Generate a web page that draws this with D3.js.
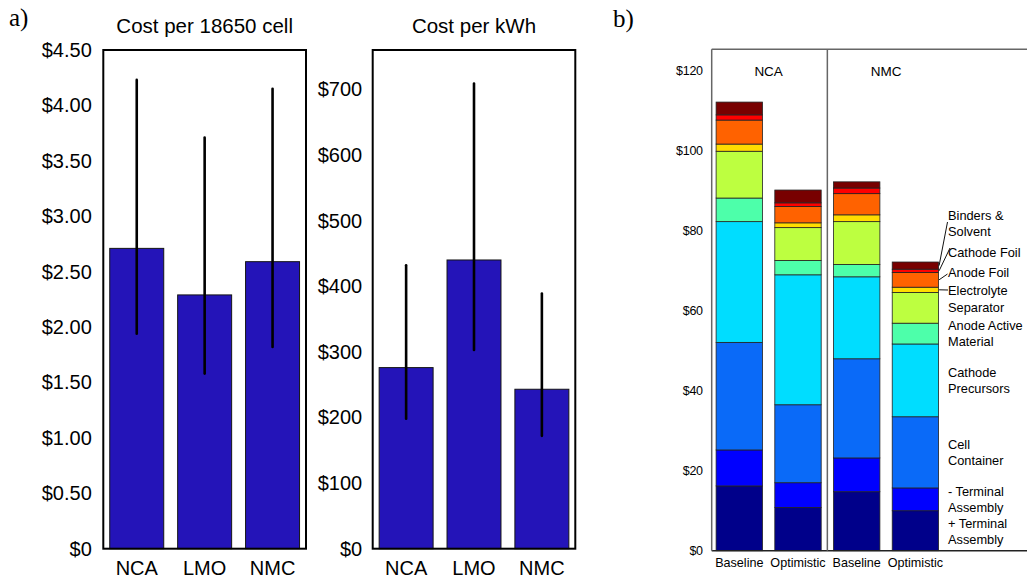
<!DOCTYPE html>
<html>
<head>
<meta charset="utf-8">
<script src="https://cdn.jsdelivr.net/npm/d3@7"></script>
<style>
  body { margin: 0; background: #fff; }
  svg { display: block; font-family: 'Liberation Sans', Arial, sans-serif; }
</style>
</head>
<body>
<div id="chart"></div>
<script>
// panel a data
var materials = ['NCA', 'LMO', 'NMC'];
var cellCost = [2.71, 2.29, 2.59];
var cellCostLow = [1.94, 1.58, 1.82];
var cellCostHigh = [4.23, 3.71, 4.15];
var kwhCost = [276, 440, 243];
var kwhCostLow = [198, 303, 172];
var kwhCostHigh = [432, 709, 389];
var cellTicks = [0, 0.5, 1, 1.5, 2, 2.5, 3, 3.5, 4, 4.5];
var kwhTicks = [0, 100, 200, 300, 400, 500, 600, 700];

// panel b data (one value per bar: NCA base, NCA opt, NMC base, NMC opt)
var scenarios = ['Baseline', 'Optimistic', 'Baseline', 'Optimistic'];
var chemistries = ['NCA', 'NMC'];
var components = ['+ Terminal Assembly', '- Terminal Assembly', 'Cell Container',
                  'Cathode Precursors', 'Anode Active Material', 'Separator',
                  'Electrolyte', 'Anode Foil', 'Cathode Foil', 'Binders & Solvent'];
var posTerminal = [16.2, 10.8, 14.75, 10.0];
var negTerminal = [9.0, 6.2, 8.45, 5.7];
var cellContainer = [26.9, 19.5, 24.8, 17.8];
var cathodePrecursors = [30.2, 32.5, 20.5, 18.2];
var anodeActive = [5.9, 3.6, 3.1, 5.2];
var separator = [11.7, 8.2, 10.7, 7.7];
var electrolyte = [1.8, 1.2, 1.7, 1.3];
var anodeFoil = [6.0, 4.1, 5.3, 3.7];
var cathodeFoil = [1.3, 0.9, 1.4, 0.8];
var binders = [3.2, 3.2, 1.55, 1.8];
var packTicks = [0, 20, 40, 60, 80, 100, 120];

var componentValues = [posTerminal, negTerminal, cellContainer, cathodePrecursors,
                       anodeActive, separator, electrolyte, anodeFoil, cathodeFoil, binders];
var componentColors = ['#00008a', '#0000ff', '#0a6af8', '#00ddff', '#4dffaa',
                       '#bdff40', '#ffdd00', '#ff6200', '#ff0000', '#780000'];

var svg = d3.select('#chart').append('svg')
    .attr('width', 1027)
    .attr('height', 578);

var dollar = function (d) {
  return '$' + d;
};

var drawBarPanel = function (opts) {
  var x = d3.scaleBand()
      .domain(materials)
      .range([opts.left, opts.right])
      .paddingInner(0.205)
      .paddingOuter(0.095);

  var y = d3.scaleLinear()
      .domain([0, opts.max])
      .range([548.7, 50]);

  var g = svg.append('g').attr('class', 'panel');

  g.selectAll('.bar')
    .data(materials)
    .enter()
    .append('rect')
    .attr('class', 'bar')
    .attr('x', function (d) { return x(d); })
    .attr('y', function (d, i) { return y(opts.values[i]); })
    .attr('width', x.bandwidth())
    .attr('height', function (d, i) { return y(0) - y(opts.values[i]); })
    .style('fill', '#2414b8')
    .style('stroke', '#151515')
    .style('stroke-width', 1);

  g.selectAll('.err')
    .data(materials)
    .enter()
    .append('line')
    .attr('class', 'err')
    .attr('x1', function (d) { return x(d) + x.bandwidth() / 2; })
    .attr('x2', function (d) { return x(d) + x.bandwidth() / 2; })
    .attr('y1', function (d, i) { return y(opts.low[i]); })
    .attr('y2', function (d, i) { return y(opts.high[i]); })
    .style('stroke', '#000')
    .style('stroke-width', 2.6)
    .style('stroke-linecap', 'round');

  g.append('rect')
    .attr('x', opts.left)
    .attr('y', y(opts.max))
    .attr('width', opts.right - opts.left)
    .attr('height', y(0) - y(opts.max))
    .style('fill', 'none')
    .style('stroke', '#000')
    .style('stroke-width', 2);

  var yAxis = d3.axisLeft(y)
      .tickValues(opts.ticks)
      .tickSize(0)
      .tickPadding(opts.pad)
      .tickFormat(opts.format);

  g.append('g')
    .attr('transform', 'translate(' + opts.left + ',0)')
    .call(yAxis)
    .call(function (a) { a.select('.domain').remove(); })
    .selectAll('text')
    .style('font-family', "'Liberation Sans', Arial, sans-serif")
    .style('font-size', '20px')
    .style('fill', '#000');

  var xAxis = d3.axisBottom(x)
      .tickSize(0)
      .tickPadding(12);

  g.append('g')
    .attr('transform', 'translate(0,' + y(0) + ')')
    .call(xAxis)
    .call(function (a) { a.select('.domain').remove(); })
    .selectAll('text')
    .style('font-family', "'Liberation Sans', Arial, sans-serif")
    .style('font-size', '20px')
    .style('fill', '#000');

  g.append('text')
    .attr('x', (opts.left + opts.right) / 2)
    .attr('y', 33)
    .attr('text-anchor', 'middle')
    .style('font-size', '20.5px')
    .text(opts.title);
};

drawBarPanel({
  left: 103.3, right: 306, max: 4.5,
  values: cellCost, low: cellCostLow, high: cellCostHigh,
  ticks: cellTicks, pad: 11.5,
  format: function (d) { return d === 0 ? '$0' : '$' + d3.format('.2f')(d); },
  title: 'Cost per 18650 cell'
});

drawBarPanel({
  left: 372.7, right: 575.3, max: 760,
  values: kwhCost, low: kwhCostLow, high: kwhCostHigh,
  ticks: kwhTicks, pad: 10.5,
  format: dollar,
  title: 'Cost per kWh'
});

// panel b: stacked component costs
var rows = scenarios.map(function (s, i) {
  var row = { index: i };
  components.forEach(function (c, k) {
    row[c] = componentValues[k][i];
  });
  return row;
});

var stacked = d3.stack().keys(components)(rows);

var bx = d3.scaleBand()
    .domain(d3.range(scenarios.length))
    .range([711.7, 943])
    .paddingInner(0.21)
    .paddingOuter(0.075);

var by = d3.scaleLinear()
    .domain([0, 125.4])
    .range([550.7, 49.3]);

var pb = svg.append('g').attr('class', 'panel-b');

pb.selectAll('.layer')
  .data(stacked)
  .enter()
  .append('g')
  .attr('class', 'layer')
  .style('fill', function (d, k) { return componentColors[k]; })
  .selectAll('rect')
  .data(function (d) { return d; })
  .enter()
  .append('rect')
  .attr('x', function (d, i) { return bx(i); })
  .attr('y', function (d) { return by(d[1]); })
  .attr('width', bx.bandwidth())
  .attr('height', function (d) { return by(d[0]) - by(d[1]); })
  .style('stroke', '#222')
  .style('stroke-width', 0.8);

// frame
var frameRight = 1027;
pb.append('line')
  .attr('x1', 711.7).attr('x2', frameRight)
  .attr('y1', by(125.4)).attr('y2', by(125.4))
  .style('stroke', '#666').style('stroke-width', 1.5);
pb.append('line')
  .attr('x1', 711.7).attr('x2', frameRight)
  .attr('y1', by(0)).attr('y2', by(0))
  .style('stroke', '#222').style('stroke-width', 1.5);
pb.append('line')
  .attr('x1', 711.7).attr('x2', 711.7)
  .attr('y1', by(0)).attr('y2', by(125.4))
  .style('stroke', '#666').style('stroke-width', 1.5);

var divX = (bx(1) + bx.bandwidth() + bx(2)) / 2;
pb.append('line')
  .attr('x1', divX).attr('x2', divX)
  .attr('y1', by(0)).attr('y2', by(125.4))
  .style('stroke', '#666').style('stroke-width', 1.5);

pb.selectAll('.chem')
  .data(chemistries)
  .enter()
  .append('text')
  .attr('class', 'chem')
  .attr('x', function (d, i) { return (bx(2 * i) + bx(2 * i + 1) + bx.bandwidth()) / 2; })
  .attr('y', by(120))
  .attr('dy', '0.36em')
  .attr('text-anchor', 'middle')
  .style('font-size', '13.5px')
  .text(function (d) { return d; });

var packAxis = d3.axisLeft(by)
    .tickValues(packTicks)
    .tickSize(0)
    .tickPadding(9)
    .tickFormat(dollar);

pb.append('g')
  .attr('transform', 'translate(711.7,0)')
  .call(packAxis)
  .call(function (a) { a.select('.domain').remove(); })
  .selectAll('text')
  .style('font-family', "'Liberation Sans', Arial, sans-serif")
  .style('font-size', '12.5px')
  .style('letter-spacing', '-0.3px')
  .style('fill', '#000');

pb.selectAll('.scen')
  .data(scenarios)
  .enter()
  .append('text')
  .attr('class', 'scen')
  .attr('x', function (d, i) { return bx(i) + bx.bandwidth() / 2; })
  .attr('y', 567)
  .attr('text-anchor', 'middle')
  .style('font-size', '12.6px')
  .text(function (d) { return d; });

// legend labels beside the last bar
var legendLines = [
  ['Binders &', 'Solvent'], ['Cathode Foil'], ['Anode Foil'], ['Electrolyte'],
  ['Separator'], ['Anode Active', 'Material'], ['Cathode', 'Precursors'],
  ['Cell', 'Container'], ['- Terminal', 'Assembly'], ['+ Terminal', 'Assembly']
];
var legendY = [215, 252.7, 272.7, 290, 307.3, 325.7, 372.7, 444.3, 491.7, 523.3];
var leaderStart = [[947.5, 222], [950, 248], [947.5, 274], [948, 290]];

var legend = pb.append('g').attr('class', 'legend');

legendLines.forEach(function (lines, j) {
  var t = legend.append('text')
      .attr('x', 948)
      .attr('y', legendY[j])
      .style('font-size', '12.8px');
  lines.forEach(function (line, n) {
    t.append('tspan')
      .attr('x', 948)
      .attr('dy', n === 0 ? '0.36em' : '16px')
      .text(line);
  });
});

// leader lines from the top four labels to the segments of the last bar
var last = scenarios.length - 1;
var barRight = bx(last) + bx.bandwidth();
leaderStart.forEach(function (p, j) {
  var layer = stacked[components.length - 1 - j][last];
  legend.append('line')
    .attr('x1', p[0])
    .attr('y1', p[1])
    .attr('x2', barRight + 0.5)
    .attr('y2', by((layer[0] + layer[1]) / 2))
    .style('stroke', '#111')
    .style('stroke-width', 1);
});

// panel letters
svg.append('text')
  .attr('x', 9)
  .attr('y', 26)
  .style('font-family', "'Liberation Serif', 'Times New Roman', serif")
  .style('font-size', '25px')
  .text('a)');

svg.append('text')
  .attr('x', 613)
  .attr('y', 27)
  .style('font-family', "'Liberation Serif', 'Times New Roman', serif")
  .style('font-size', '25px')
  .text('b)');
</script>
</body>
</html>
